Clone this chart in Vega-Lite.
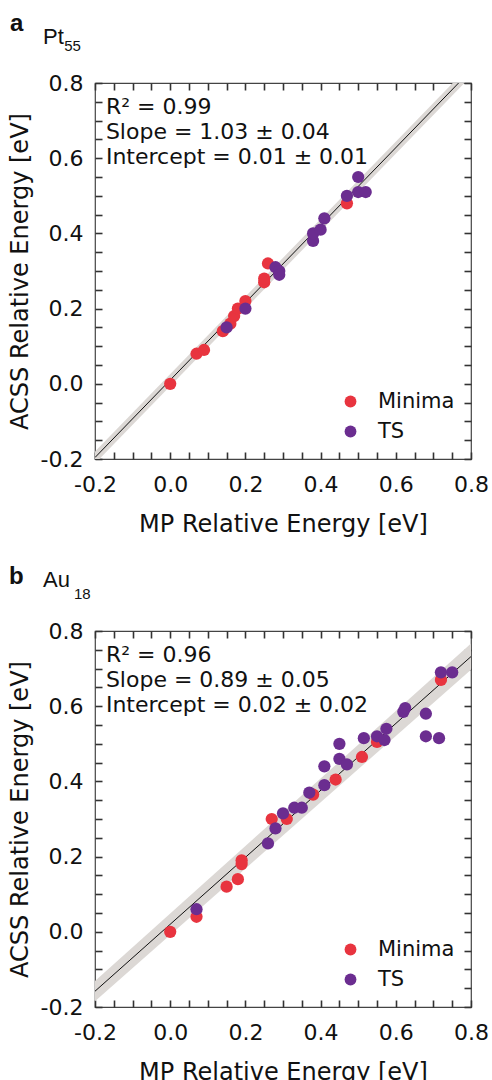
{
  "$schema": "https://vega.github.io/schema/vega-lite/v6.json",
  "padding": {"left": 7, "top": 11, "right": 5, "bottom": 5},
  "background": "white",
  "config": {
    "font": "DejaVu Sans",
    "view": {"stroke": "#444", "strokeWidth": 1.2},
    "axis": {"domain": false, "grid": false, "labelFontSize": 22, "titleFontSize": 24, "labelColor": "#111", "titleColor": "#111", "titleFontWeight": "normal", "labelFlush": false, "labelOverlap": false},
    "legend": {"orient": "none", "legendX": 245, "legendY": 308, "title": null, "labelFontSize": 21, "labelColor": "#111", "symbolSize": 140, "symbolType": "circle", "symbolStrokeWidth": 0, "rowPadding": 8, "labelOffset": 17}
  },
  "bounds": "flush",
  "spacing": 172,
  "resolve": {"legend": {"color": "independent"}},
  "datasets": {
    "ptPoints": [
      {"mp": 0.00, "acss": 0.00, "type": "Minima"},
      {"mp": 0.07, "acss": 0.08, "type": "Minima"},
      {"mp": 0.09, "acss": 0.09, "type": "Minima"},
      {"mp": 0.14, "acss": 0.14, "type": "Minima"},
      {"mp": 0.16, "acss": 0.16, "type": "Minima"},
      {"mp": 0.17, "acss": 0.18, "type": "Minima"},
      {"mp": 0.18, "acss": 0.20, "type": "Minima"},
      {"mp": 0.20, "acss": 0.22, "type": "Minima"},
      {"mp": 0.25, "acss": 0.27, "type": "Minima"},
      {"mp": 0.25, "acss": 0.28, "type": "Minima"},
      {"mp": 0.26, "acss": 0.32, "type": "Minima"},
      {"mp": 0.47, "acss": 0.48, "type": "Minima"},
      {"mp": 0.15, "acss": 0.15, "type": "TS"},
      {"mp": 0.20, "acss": 0.20, "type": "TS"},
      {"mp": 0.28, "acss": 0.31, "type": "TS"},
      {"mp": 0.29, "acss": 0.30, "type": "TS"},
      {"mp": 0.29, "acss": 0.29, "type": "TS"},
      {"mp": 0.38, "acss": 0.38, "type": "TS"},
      {"mp": 0.38, "acss": 0.40, "type": "TS"},
      {"mp": 0.40, "acss": 0.41, "type": "TS"},
      {"mp": 0.41, "acss": 0.44, "type": "TS"},
      {"mp": 0.47, "acss": 0.50, "type": "TS"},
      {"mp": 0.50, "acss": 0.55, "type": "TS"},
      {"mp": 0.50, "acss": 0.51, "type": "TS"},
      {"mp": 0.52, "acss": 0.51, "type": "TS"}
    ],
    "ptFit": [
      {"mp": -0.2, "fit": -0.196, "lo": -0.212, "hi": -0.180},
      {"mp": 0.8, "fit": 0.834, "lo": 0.818, "hi": 0.850}
    ],
    "auPoints": [
      {"mp": 0.00, "acss": 0.00, "type": "Minima"},
      {"mp": 0.07, "acss": 0.04, "type": "Minima"},
      {"mp": 0.15, "acss": 0.12, "type": "Minima"},
      {"mp": 0.18, "acss": 0.14, "type": "Minima"},
      {"mp": 0.19, "acss": 0.18, "type": "Minima"},
      {"mp": 0.19, "acss": 0.19, "type": "Minima"},
      {"mp": 0.27, "acss": 0.30, "type": "Minima"},
      {"mp": 0.31, "acss": 0.30, "type": "Minima"},
      {"mp": 0.38, "acss": 0.365, "type": "Minima"},
      {"mp": 0.44, "acss": 0.405, "type": "Minima"},
      {"mp": 0.51, "acss": 0.465, "type": "Minima"},
      {"mp": 0.55, "acss": 0.505, "type": "Minima"},
      {"mp": 0.72, "acss": 0.67, "type": "Minima"},
      {"mp": 0.07, "acss": 0.06, "type": "TS"},
      {"mp": 0.26, "acss": 0.235, "type": "TS"},
      {"mp": 0.28, "acss": 0.275, "type": "TS"},
      {"mp": 0.30, "acss": 0.315, "type": "TS"},
      {"mp": 0.33, "acss": 0.33, "type": "TS"},
      {"mp": 0.35, "acss": 0.33, "type": "TS"},
      {"mp": 0.37, "acss": 0.37, "type": "TS"},
      {"mp": 0.41, "acss": 0.39, "type": "TS"},
      {"mp": 0.41, "acss": 0.44, "type": "TS"},
      {"mp": 0.45, "acss": 0.46, "type": "TS"},
      {"mp": 0.47, "acss": 0.445, "type": "TS"},
      {"mp": 0.45, "acss": 0.50, "type": "TS"},
      {"mp": 0.515, "acss": 0.515, "type": "TS"},
      {"mp": 0.55, "acss": 0.52, "type": "TS"},
      {"mp": 0.57, "acss": 0.51, "type": "TS"},
      {"mp": 0.575, "acss": 0.54, "type": "TS"},
      {"mp": 0.62, "acss": 0.585, "type": "TS"},
      {"mp": 0.625, "acss": 0.595, "type": "TS"},
      {"mp": 0.68, "acss": 0.58, "type": "TS"},
      {"mp": 0.68, "acss": 0.52, "type": "TS"},
      {"mp": 0.715, "acss": 0.515, "type": "TS"},
      {"mp": 0.72, "acss": 0.69, "type": "TS"},
      {"mp": 0.75, "acss": 0.69, "type": "TS"}
    ],
    "auFit": [
      {"mp": -0.2, "fit": -0.158, "lo": -0.185, "hi": -0.131},
      {"mp": 0.8, "fit": 0.732, "lo": 0.697, "hi": 0.767}
    ]
  },
  "vconcat": [
    {
      "width": 376,
      "height": 376,
      "resolve": {"axis": {"x": "independent", "y": "independent"}},
      "layer": [
        {
          "data": {"name": "ptFit"},
          "mark": {"type": "area", "color": "#DCD8D5", "clip": true},
          "encoding": {
            "x": {"field": "mp", "type": "quantitative", "scale": {"domain": [-0.2, 0.8], "nice": false, "zero": false},
              "axis": {"orient": "bottom", "ticks": true, "tickSize": -7, "tickColor": "#333", "tickWidth": 1.6, "values": [-0.2,-0.15,-0.1,-0.05,0,0.05,0.1,0.15,0.2,0.25,0.3,0.35,0.4,0.45,0.5,0.55,0.6,0.65,0.7,0.75,0.8], "labelExpr": "abs(datum.value*5 - round(datum.value*5)) < 0.01 ? replace(format(datum.value, '.1f'), '\u2212', '-') : ''", "labelPadding": 22, "title": "MP Relative Energy [eV]", "titlePadding": 17}},
            "y": {"field": "lo", "type": "quantitative", "scale": {"domain": [-0.2, 0.8], "nice": false, "zero": false},
              "axis": {"orient": "left", "ticks": true, "tickSize": -7, "tickColor": "#333", "tickWidth": 1.6, "values": [-0.2,-0.15,-0.1,-0.05,0,0.05,0.1,0.15,0.2,0.25,0.3,0.35,0.4,0.45,0.5,0.55,0.6,0.65,0.7,0.75,0.8], "labelExpr": "abs(datum.value*5 - round(datum.value*5)) < 0.01 ? replace(format(datum.value, '.1f'), '\u2212', '-') : ''", "labelPadding": 19, "title": "ACSS Relative Energy [eV]", "titlePadding": 8}},
            "y2": {"field": "hi"}
          }
        },
        {
          "data": {"name": "ptFit"},
          "mark": {"type": "line", "color": "#111", "strokeWidth": 1, "clip": true},
          "encoding": {
            "x": {"field": "mp", "type": "quantitative", "axis": {"orient": "top", "ticks": true, "tickSize": -7, "tickColor": "#333", "tickWidth": 1.6, "values": [-0.2,-0.15,-0.1,-0.05,0,0.05,0.1,0.15,0.2,0.25,0.3,0.35,0.4,0.45,0.5,0.55,0.6,0.65,0.7,0.75,0.8], "labels": false, "title": null}},
            "y": {"field": "fit", "type": "quantitative", "axis": {"orient": "right", "ticks": true, "tickSize": -7, "tickColor": "#333", "tickWidth": 1.6, "values": [-0.2,-0.15,-0.1,-0.05,0,0.05,0.1,0.15,0.2,0.25,0.3,0.35,0.4,0.45,0.5,0.55,0.6,0.65,0.7,0.75,0.8], "labels": false, "title": null}}
          }
        },
        {
          "data": {"name": "ptPoints"},
          "mark": {"type": "circle", "size": 150, "opacity": 1},
          "encoding": {
            "x": {"field": "mp", "type": "quantitative", "axis": null},
            "y": {"field": "acss", "type": "quantitative", "axis": null},
            "color": {"field": "type", "type": "nominal", "scale": {"domain": ["Minima", "TS"], "range": ["#E8343F", "#6B2D90"]}}
          }
        },
        {
          "data": {"values": [{}]},
          "mark": {"type": "text", "align": "left", "baseline": "alphabetic", "fontSize": 22, "lineHeight": 25, "color": "#111", "text": ["R\u00b2 = 0.99", "Slope = 1.03 \u00b1 0.04", "Intercept = 0.01 \u00b1 0.01"]},
          "encoding": {"x": {"datum": -0.171, "type": "quantitative", "axis": null}, "y": {"datum": 0.718, "type": "quantitative", "axis": null}}
        },
        {
          "data": {"values": [{}]},
          "mark": {"type": "text", "align": "left", "baseline": "alphabetic", "font": "Liberation Sans", "fontSize": 24, "fontWeight": "bold", "color": "#111", "text": "a"},
          "encoding": {"x": {"datum": -0.426, "type": "quantitative", "axis": null}, "y": {"datum": 0.938, "type": "quantitative", "axis": null}}
        },
        {
          "data": {"values": [{}]},
          "mark": {"type": "text", "align": "left", "baseline": "alphabetic", "font": "Liberation Sans", "fontSize": 22, "color": "#111", "text": "Pt"},
          "encoding": {"x": {"datum": -0.338, "type": "quantitative", "axis": null}, "y": {"datum": 0.904, "type": "quantitative", "axis": null}}
        },
        {
          "data": {"values": [{}]},
          "mark": {"type": "text", "align": "left", "baseline": "alphabetic", "font": "Liberation Sans", "fontSize": 15, "color": "#111", "text": "55"},
          "encoding": {"x": {"datum": -0.282, "type": "quantitative", "axis": null}, "y": {"datum": 0.885, "type": "quantitative", "axis": null}}
        }
      ]
    },
    {
      "width": 376,
      "height": 376,
      "resolve": {"axis": {"x": "independent", "y": "independent"}},
      "layer": [
        {
          "data": {"name": "auFit"},
          "mark": {"type": "area", "color": "#DCD8D5", "clip": true},
          "encoding": {
            "x": {"field": "mp", "type": "quantitative", "scale": {"domain": [-0.2, 0.8], "nice": false, "zero": false},
              "axis": {"orient": "bottom", "ticks": true, "tickSize": -7, "tickColor": "#333", "tickWidth": 1.6, "values": [-0.2,-0.15,-0.1,-0.05,0,0.05,0.1,0.15,0.2,0.25,0.3,0.35,0.4,0.45,0.5,0.55,0.6,0.65,0.7,0.75,0.8], "labelExpr": "abs(datum.value*5 - round(datum.value*5)) < 0.01 ? replace(format(datum.value, '.1f'), '\u2212', '-') : ''", "labelPadding": 22, "title": "MP Relative Energy [eV]", "titlePadding": 17}},
            "y": {"field": "lo", "type": "quantitative", "scale": {"domain": [-0.2, 0.8], "nice": false, "zero": false},
              "axis": {"orient": "left", "ticks": true, "tickSize": -7, "tickColor": "#333", "tickWidth": 1.6, "values": [-0.2,-0.15,-0.1,-0.05,0,0.05,0.1,0.15,0.2,0.25,0.3,0.35,0.4,0.45,0.5,0.55,0.6,0.65,0.7,0.75,0.8], "labelExpr": "abs(datum.value*5 - round(datum.value*5)) < 0.01 ? replace(format(datum.value, '.1f'), '\u2212', '-') : ''", "labelPadding": 19, "title": "ACSS Relative Energy [eV]", "titlePadding": 8}},
            "y2": {"field": "hi"}
          }
        },
        {
          "data": {"name": "auFit"},
          "mark": {"type": "line", "color": "#111", "strokeWidth": 1, "clip": true},
          "encoding": {
            "x": {"field": "mp", "type": "quantitative", "axis": {"orient": "top", "ticks": true, "tickSize": -7, "tickColor": "#333", "tickWidth": 1.6, "values": [-0.2,-0.15,-0.1,-0.05,0,0.05,0.1,0.15,0.2,0.25,0.3,0.35,0.4,0.45,0.5,0.55,0.6,0.65,0.7,0.75,0.8], "labels": false, "title": null}},
            "y": {"field": "fit", "type": "quantitative", "axis": {"orient": "right", "ticks": true, "tickSize": -7, "tickColor": "#333", "tickWidth": 1.6, "values": [-0.2,-0.15,-0.1,-0.05,0,0.05,0.1,0.15,0.2,0.25,0.3,0.35,0.4,0.45,0.5,0.55,0.6,0.65,0.7,0.75,0.8], "labels": false, "title": null}}
          }
        },
        {
          "data": {"name": "auPoints"},
          "mark": {"type": "circle", "size": 150, "opacity": 1},
          "encoding": {
            "x": {"field": "mp", "type": "quantitative", "axis": null},
            "y": {"field": "acss", "type": "quantitative", "axis": null},
            "color": {"field": "type", "type": "nominal", "scale": {"domain": ["Minima", "TS"], "range": ["#E8343F", "#6B2D90"]}}
          }
        },
        {
          "data": {"values": [{}]},
          "mark": {"type": "text", "align": "left", "baseline": "alphabetic", "fontSize": 22, "lineHeight": 25, "color": "#111", "text": ["R\u00b2 = 0.96", "Slope = 0.89 \u00b1 0.05", "Intercept = 0.02 \u00b1 0.02"]},
          "encoding": {"x": {"datum": -0.171, "type": "quantitative", "axis": null}, "y": {"datum": 0.718, "type": "quantitative", "axis": null}}
        },
        {
          "data": {"values": [{}]},
          "mark": {"type": "text", "align": "left", "baseline": "alphabetic", "font": "Liberation Sans", "fontSize": 24, "fontWeight": "bold", "color": "#111", "text": "b"},
          "encoding": {"x": {"datum": -0.429, "type": "quantitative", "axis": null}, "y": {"datum": 0.925, "type": "quantitative", "axis": null}}
        },
        {
          "data": {"values": [{}]},
          "mark": {"type": "text", "align": "left", "baseline": "alphabetic", "font": "Liberation Sans", "fontSize": 22, "color": "#111", "text": "Au"},
          "encoding": {"x": {"datum": -0.338, "type": "quantitative", "axis": null}, "y": {"datum": 0.917, "type": "quantitative", "axis": null}}
        },
        {
          "data": {"values": [{}]},
          "mark": {"type": "text", "align": "left", "baseline": "alphabetic", "font": "Liberation Sans", "fontSize": 15, "color": "#111", "text": "18"},
          "encoding": {"x": {"datum": -0.256, "type": "quantitative", "axis": null}, "y": {"datum": 0.885, "type": "quantitative", "axis": null}}
        }
      ]
    }
  ]
}
